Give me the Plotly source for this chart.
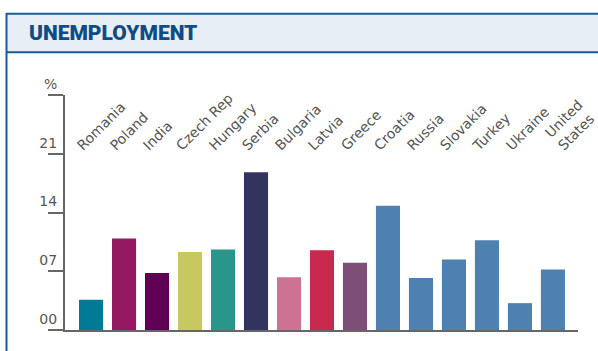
import plotly.graph_objects as go

countries = ["Romania", "Poland", "India", "Czech Rep", "Hungary", "Serbia", "Bulgaria",
             "Latvia", "Greece", "Croatia", "Russia", "Slovakia", "Turkey", "Ukraine",
             "United<br>States"]
unemployment = [3.6, 10.9, 6.8, 9.3, 9.6, 18.8, 6.3, 9.5, 8.0, 14.8, 6.2, 8.4, 10.7, 3.2, 7.2]
bar_colors = ["#007a96", "#951862", "#5e0054", "#c8c862", "#29958b", "#333360", "#cc7394",
              "#c72a4e", "#7d4e77", "#4f81b0", "#4f81b0", "#4f81b0", "#4f81b0", "#4f81b0",
              "#4f81b0"]
y_tickvals = [0, 7, 14, 21, 28]
y_ticktext = ["00", "07", "14", "21", "%"]
title_text = "UNEMPLOYMENT"

W, H = 598, 351
L, R, T, B = 65, 20, 95, 21
pw, ph = W - L - R, H - T - B

def px(x):
    return (x - L) / pw

def py(y):
    return (H - B - y) / ph

idx = list(range(len(countries)))
single = idx[:-1]
multi = idx[-1:]

fig = go.Figure()
fig.add_trace(go.Bar(x=idx, y=unemployment, marker=dict(color=bar_colors, line=dict(width=0)),
                     width=0.73, hoverinfo="skip"))
fig.add_trace(go.Scatter(x=idx, y=[0] * len(idx), xaxis="x2", mode="markers",
                         marker=dict(opacity=0), hoverinfo="skip"))
fig.add_trace(go.Scatter(x=idx, y=[0] * len(idx), xaxis="x3", mode="markers",
                         marker=dict(opacity=0), hoverinfo="skip"))

axis_gray = "#666666"
label_font = dict(family="DejaVu Sans", size=14, color="#555555")
xr = [-0.79, 14.76]
fig.update_layout(
    width=W, height=H,
    margin=dict(l=L, r=R, t=T, b=B, pad=0, autoexpand=False),
    paper_bgcolor="white", plot_bgcolor="white",
    showlegend=False,
    bargap=0.27,
    xaxis=dict(range=xr, showline=True, linecolor=axis_gray, linewidth=2,
               showticklabels=False, ticks="", showgrid=False, zeroline=False,
               tickvals=idx, automargin=False),
    xaxis2=dict(range=xr, overlaying="x", side="top", anchor="free",
                position=0.74, showline=False, ticks="", showgrid=False, zeroline=False,
                tickvals=single, ticktext=[countries[i] for i in single],
                tickangle=-45, ticklabelshift=-13, automargin=False, tickfont=label_font,
                ticklabeloverflow="allow"),
    xaxis3=dict(range=xr, overlaying="x", side="top", anchor="free",
                position=0.74, showline=False, ticks="", showgrid=False, zeroline=False,
                tickvals=multi, ticktext=[countries[i] for i in multi],
                tickangle=-45, ticklabelshift=6, automargin=False, tickfont=label_font,
                ticklabeloverflow="allow"),
    yaxis=dict(range=[0, 28], tickvals=y_tickvals, ticktext=y_ticktext,
               showline=True, linecolor=axis_gray, linewidth=2,
               ticks="outside", ticklen=15, tickwidth=2, tickcolor=axis_gray,
               showgrid=False, zeroline=False, automargin=False,
               ticklabelstandoff=-12, ticklabelshift=-11,
               tickfont=dict(family="DejaVu Sans", size=14, color="#555555")),
    shapes=[
        dict(type="rect", xref="paper", yref="paper", x0=px(6), x1=px(605), y0=py(52.5), y1=py(13.5),
             fillcolor="#e8eef6", line=dict(width=0), layer="below"),
        dict(type="line", xref="paper", yref="paper", x0=px(6), x1=px(605), y0=py(13.8), y1=py(13.8),
             line=dict(color="#1a5a96", width=2)),
        dict(type="line", xref="paper", yref="paper", x0=px(6), x1=px(605), y0=py(52.3), y1=py(52.3),
             line=dict(color="#1a5a96", width=2)),
        dict(type="line", xref="paper", yref="paper", x0=px(6.5), x1=px(6.5), y0=py(360), y1=py(13),
             line=dict(color="#1a5a96", width=2)),
    ],
    annotations=[
        dict(text=title_text, xref="paper", yref="paper", x=px(27), y=py(33),
             xanchor="left", yanchor="middle", showarrow=False,
             font=dict(family="Roboto", size=21, weight=900, color="#0d4c84")),
    ],
)

fig.write_html("out.html")
